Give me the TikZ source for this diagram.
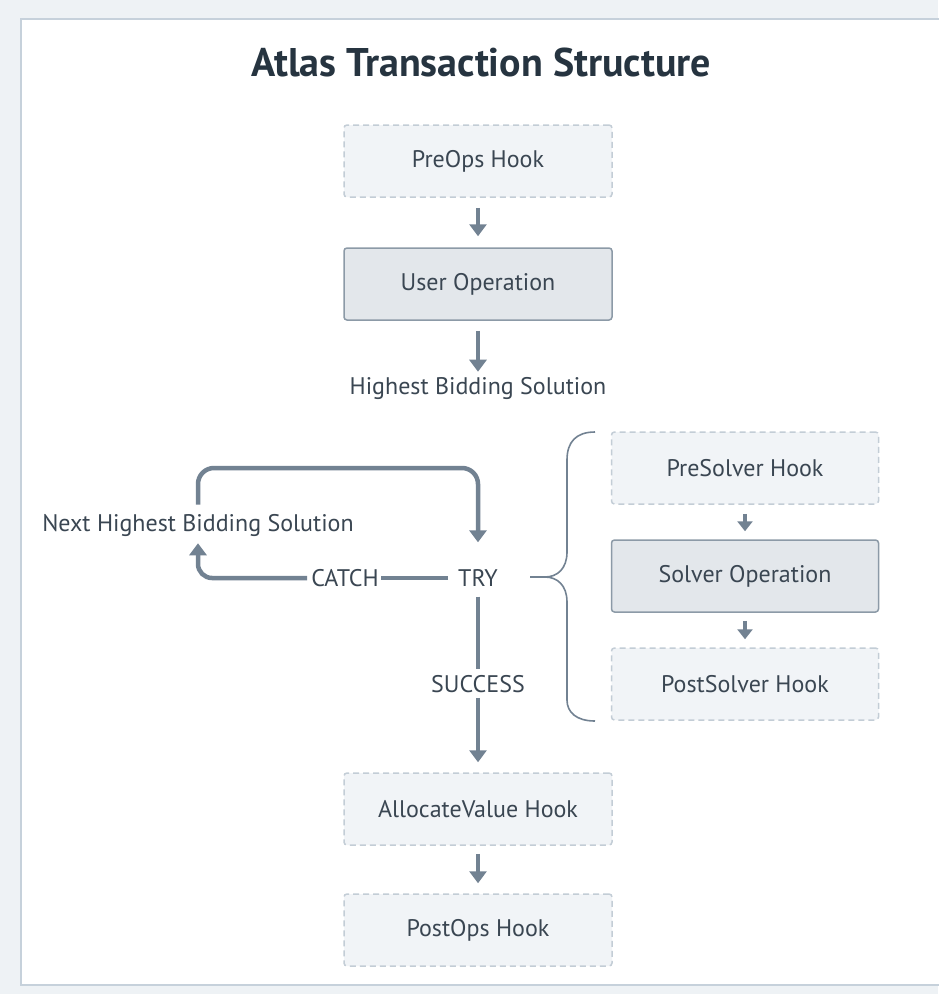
\documentclass[tikz,border=0pt]{standalone}
\usepackage{fontspec}
\setmainfont{PT Sans}
\usetikzlibrary{arrows.meta,calc}

\definecolor{pagebg}{HTML}{EEF2F5}
\definecolor{cardline}{HTML}{C6D1DB}
\definecolor{hookfill}{HTML}{F1F4F7}
\definecolor{hookline}{HTML}{C3CDD6}
\definecolor{operfill}{HTML}{E3E7EB}
\definecolor{operline}{HTML}{8C9AA7}
\definecolor{flowc}{HTML}{728292}
\definecolor{txt}{HTML}{3A4652}
\definecolor{titletxt}{HTML}{263440}

\tikzset{
  hook/.style={draw=hookline, line width=1.5pt, dash pattern=on 6pt off 4pt,
    fill=hookfill, rounded corners=3pt, minimum width=268pt,
    minimum height=72pt, text=txt, font=\fontsize{24}{28}\selectfont},
  oper/.style={hook, draw=operline, solid, fill=operfill},
  lbl/.style={text=txt, font=\fontsize{24}{28}\selectfont, inner sep=2pt},
  flow/.style={draw=flowc, line width=4.5pt,
    -{Triangle[width=17pt,length=12pt]}},
  minor/.style={draw=flowc, line width=4pt,
    -{Triangle[width=15pt,length=10pt]}},
  plain/.style={draw=flowc, line width=4.5pt},
}

\begin{document}
\begin{tikzpicture}[x=1pt,y=-1pt]
\useasboundingbox (0,0) rectangle (938,994);
% page and card
\fill[pagebg] (0,0) rectangle (938,994);
\filldraw[fill=white,draw=cardline,line width=2.5pt] (950,19) -- (21,19) -- (21,985) -- (950,985);

\node[text=titletxt,font=\bfseries\fontsize{40}{46}\selectfont] (title) at (481,62) {Atlas Transaction Structure};

% main column
\node[hook] (preops) at (478,161) {PreOps Hook};
\node[oper] (user) at (478,284) {User Operation};
\node[lbl] (high) at (478,388) {Highest Bidding Solution};
\node[lbl] (try) at (478,578) {TRY};
\node[lbl] (catch) at (345,578) {CATCH};
\node[lbl] (next) at (198,525) {Next Highest Bidding Solution};
\node[lbl] (success) at (478,684) {SUCCESS};
\node[hook] (alloc) at (478,809) {AllocateValue Hook};
\node[hook] (postops) at (478,930) {PostOps Hook};

% solver column
\node[hook,minimum width=267pt] (presolver) at (745,468) {PreSolver Hook};
\node[oper,minimum width=267pt] (solver) at (745,576) {Solver Operation};
\node[hook,minimum width=267pt] (postsolver) at (745,684) {PostSolver Hook};

\draw[flow,shorten <=10pt,shorten >=11pt] (preops) -- (user);
\draw[flow,shorten <=10pt,shorten >=3pt] (user) -- (high);
\draw[minor,shorten <=9pt,shorten >=8pt] (presolver) -- (solver);
\draw[minor,shorten <=8pt,shorten >=8pt] (solver) -- (postsolver);

% retry loop
\coordinate (looptop) at (0,468);
\draw[flow,rounded corners=16pt,shorten <=7pt,shorten >=25pt]
  (next.north) |- (looptop -| try.north) -- (try.north);
\draw[plain,shorten <=8pt] (try.west) -- (catch.east);
\draw[flow,rounded corners=14pt,shorten <=2pt,shorten >=5pt]
  (catch.west) -| (next.south);

% success path
\draw[plain,shorten <=8pt,shorten >=4pt] (try.south) -- (success.north);
\draw[flow,shorten <=3pt,shorten >=10pt] (success.south) -- (alloc.north);
\draw[flow,shorten <=8pt,shorten >=10pt] (alloc) -- (postops);

% brace round the solver steps
\draw[flowc,line width=1.6pt]
  (595,432) .. controls (576,432) and (567,442) .. (567,460) -- (567,552)
  .. controls (567,569) and (557,577) .. (545,577) -- (530,577);
\draw[flowc,line width=1.6pt]
  (545,577) .. controls (557,577) and (567,585) .. (567,602) -- (567,700)
  .. controls (567,712) and (576,721) .. (595,721);
\end{tikzpicture}
\end{document}
